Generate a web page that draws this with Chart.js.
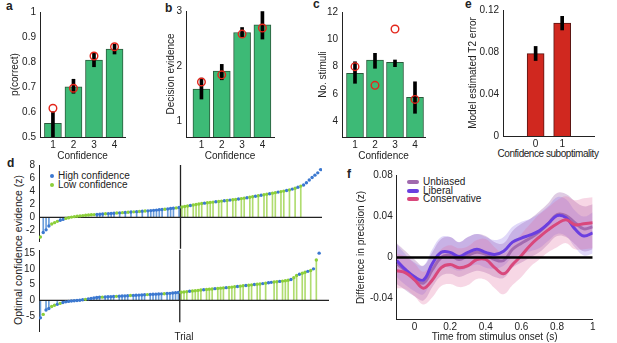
<!DOCTYPE html>
<html>
<head>
<meta charset="utf-8">
<script src="https://cdn.jsdelivr.net/npm/chart.js@4.4.1/dist/chart.umd.min.js"></script>
<style>
body { margin: 0; background: #fff; }
#fig { position: relative; width: 617px; height: 343px; overflow: hidden; font-family: 'Liberation Sans', Arial, sans-serif; color: #222; }
#fig canvas { position: absolute; }
.lbl { position: absolute; font-weight: bold; font-size: 12px; line-height: 12px; }
.txt { position: absolute; font-size: 10px; line-height: 10px; white-space: nowrap; }
.dot { position: absolute; width: 4px; height: 4px; border-radius: 50%; }
.swatch { position: absolute; width: 12px; height: 4px; border-radius: 2px; }
</style>
</head>
<body>
<div id="fig">
  <div class="lbl" style="left:6px;top:0px">a</div>
  <div class="lbl" style="left:165px;top:2px">b</div>
  <div class="lbl" style="left:313px;top:-2px">c</div>
  <div class="lbl" style="left:465px;top:-2px">e</div>
  <div class="lbl" style="left:7px;top:157px">d</div>
  <div class="lbl" style="left:347px;top:168px">f</div>

  <div class="txt" style="left:18px;top:250px;font-size:10.5px;transform:translate(-50%,-50%) rotate(-90deg)">Optimal confidence evidence (z)</div>
  <div class="txt" style="left:548px;top:154px;letter-spacing:-0.45px;transform:translate(-50%,-50%)">Confidence suboptimality</div>

  <div class="dot" style="left:50px;top:174px;background:#3b78d0"></div>
  <div class="txt" style="left:58px;top:171px">High confidence</div>
  <div class="dot" style="left:50px;top:183px;background:#8ccf3a"></div>
  <div class="txt" style="left:58px;top:180px">Low confidence</div>

  <div class="swatch" style="left:407px;top:180px;background:#a06aae"></div>
  <div class="txt" style="left:423px;top:177px">Unbiased</div>
  <div class="swatch" style="left:407px;top:189px;background:#6a3fe0"></div>
  <div class="txt" style="left:423px;top:186px">Liberal</div>
  <div class="swatch" style="left:407px;top:197px;background:#d9487c"></div>
  <div class="txt" style="left:423px;top:194px">Conservative</div>
</div>
<script>
// ---- panel a: accuracy per confidence level
const confLevels = [1, 2, 3, 4];
const pCorrect = [0.555, 0.701, 0.808, 0.852];
const pCorrectLo = [0.501, 0.675, 0.781, 0.832];
const pCorrectHi = [0.601, 0.731, 0.835, 0.871];
const pCorrectModel = [0.615, 0.695, 0.824, 0.861];
const pCorrectTicks = [0.5, 0.6, 0.7, 0.8, 0.9, 1];

// ---- panel b: decision evidence
const decEvidence = [1.58, 1.91, 2.61, 2.75];
const decEvidenceLo = [1.4, 1.75, 2.53, 2.49];
const decEvidenceHi = [1.78, 2.03, 2.7, 2.99];
const decEvidenceModel = [1.71, 1.84, 2.58, 2.69];
const decEvidenceTicks = [1, 2, 3];

// ---- panel c: number of stimuli
const numStimuli = [7.5, 8.48, 8.31, 5.74];
const numStimuliLo = [6.77, 7.87, 7.99, 4.57];
const numStimuliHi = [8.35, 8.97, 8.48, 6.88];
const numStimuliModel = [7.99, 6.62, 10.75, 5.59];
const numStimuliTicks = [4, 6, 8, 10, 12];

// ---- panel e: model T2 error
const suboptLevels = [0, 1];
const t2Error = [0.0785, 0.1075];
const t2ErrorLo = [0.0719, 0.101];
const t2ErrorHi = [0.0853, 0.114];
const t2Ticks = [0, 0.04, 0.08, 0.12];

// ---- panel d: sorted trials, top and bottom
const trialEvTop = [-3.0, -2.3, -1.9, -1.3, -1.0, -0.8, -0.6, -0.45, -0.3, -0.15,
  -0.05, 0.05, 0.12, 0.18, 0.23, 0.28, 0.32, 0.36, 0.4, 0.43,
  0.46, 0.49, 0.52, 0.55, 0.58, 0.61, 0.64, 0.67, 0.7, 0.73,
  0.76, 0.79, 0.82, 0.85, 0.88, 0.91, 0.94, 0.97, 1.0, 1.04,
  1.08, 1.12, 1.16, 1.2, 1.25, 1.3, 1.35, 1.4, 1.45, 1.52,
  1.58, 1.66, 1.74, 1.82, 1.9, 1.98, 2.05, 2.12, 2.18, 2.24,
  2.29, 2.34, 2.39, 2.44, 2.49, 2.54, 2.59, 2.64, 2.69, 2.74,
  2.8, 2.87, 2.94, 3.01, 3.08, 3.15, 3.22, 3.3, 3.38, 3.46,
  3.54, 3.62, 3.7, 3.78, 3.86, 3.94, 4.02, 4.1, 4.2, 4.32,
  4.45, 4.6, 4.78, 4.95, 5.3, 5.7, 6.1, 6.45, 6.8, 7.3];
const trialConfTop = ('LHHHLLLHHL' + 'LLLLLLLLLL' + 'HHHLHHHLHL' + 'HLHLHLHLHH' + 'HHHHLHHHLH' +
  'LLLHLLLLHL' + 'LLHLLHLHLL' + 'HLLHLLHLHL' + 'LHLLHLLHLH' + 'LHLHHHHHHH').split('');
const trialTicksTop = [-2, 0, 2, 4, 6, 8];

const trialEvBot = [-5.6, -4.5, -3.1, -2.6, -2.0, -1.6, -1.3, -1.0, -0.7, -0.5,
  -0.35, -0.25, -0.15, -0.08, 0.0, 0.15, 0.3, 0.45, 0.6, 0.75,
  0.9, 0.95, 1.0, 1.05, 1.1, 1.15, 1.2, 1.25, 1.3, 1.35,
  1.4, 1.45, 1.5, 1.55, 1.6, 1.65, 1.7, 1.75, 1.8, 1.85,
  1.9, 1.95, 2.0, 2.05, 2.1, 2.15, 2.2, 2.3, 2.4, 2.5,
  2.55, 2.65, 2.75, 2.85, 2.95, 3.05, 3.15, 3.25, 3.35, 3.45,
  3.5, 3.6, 3.7, 3.78, 3.86, 3.94, 4.02, 4.1, 4.2, 4.3,
  4.4, 4.5, 4.6, 4.7, 4.8, 4.9, 5.0, 5.1, 5.2, 5.3,
  5.45, 5.6, 5.7, 5.8, 5.9, 6.0, 6.1, 6.2, 6.35, 6.6,
  7.2, 7.9, 8.3, 8.6, 8.9, 9.2, 9.5, 10.0, 12.8, 15.0];
const trialConfBot = ('HLHHLLHLHH' + 'HHHHHHLHHH' + 'HHLHHHHLHH' + 'HHLHHHHHLH' + 'HHHHLHHHHH' +
  'LLLHLLLLHL' + 'LLHLLLHLLL' + 'HLLHLLHLLH' + 'LHHLLHLLLH' + 'LLHLLHLHLH').split('');
const trialTicksBot = [-5, 0, 5, 10, 15];
const splitTrial = 49.5;

// ---- panel f: precision difference over time
const fTime = [-0.1, -0.05, 0, 0.05, 0.1, 0.15, 0.2, 0.25, 0.3, 0.35, 0.4, 0.45,
  0.5, 0.55, 0.6, 0.65, 0.7, 0.75, 0.8, 0.85, 0.9, 0.95, 1.0];
const unbiasedMean = [-0.006, -0.013, -0.02, -0.025, -0.012, 0.0, 0.002, -0.002, 0.002, 0.005, 0.003, -0.002,
  -0.003, 0.008, 0.014, 0.019, 0.025, 0.033, 0.042, 0.041, 0.034, 0.028, 0.03];
const unbiasedSem = [0.02, 0.019, 0.018, 0.017, 0.017, 0.018, 0.018, 0.017, 0.018, 0.018, 0.018, 0.017,
  0.017, 0.018, 0.019, 0.019, 0.02, 0.02, 0.021, 0.021, 0.021, 0.022, 0.022];
const liberalMean = [-0.003, -0.012, -0.019, -0.022, -0.006, 0.005, 0.005, 0.001, 0.005, 0.008, 0.005, 0.003,
  0.006, 0.015, 0.019, 0.022, 0.026, 0.033, 0.041, 0.039, 0.028, 0.021, 0.024];
const liberalSem = [0.016, 0.015, 0.014, 0.014, 0.014, 0.015, 0.015, 0.014, 0.015, 0.015, 0.015, 0.014,
  0.014, 0.015, 0.016, 0.016, 0.017, 0.017, 0.018, 0.018, 0.018, 0.019, 0.02];
const conservMean = [-0.013, -0.015, -0.022, -0.03, -0.022, -0.01, -0.007, -0.01, -0.008, -0.002, -0.002, -0.01,
  -0.016, -0.007, 0.002, 0.012, 0.02, 0.027, 0.033, 0.037, 0.032, 0.033, 0.034];
const conservSem = [0.017, 0.016, 0.016, 0.016, 0.017, 0.018, 0.019, 0.019, 0.019, 0.019, 0.02, 0.02,
  0.02, 0.02, 0.021, 0.021, 0.022, 0.022, 0.023, 0.023, 0.024, 0.025, 0.025];
const fTicksX = [0, 0.2, 0.4, 0.6, 0.8, 1];
const fTicksY = [-0.04, 0, 0.04, 0.08];

const INK = '#222';
Chart.defaults.font.family = "'Liberation Sans', Arial, sans-serif";
Chart.defaults.font.size = 10;
Chart.defaults.color = INK;

const fig = document.getElementById('fig');

function makeCanvas(left, top, w, h) {
  const c = document.createElement('canvas');
  c.width = w; c.height = h;
  c.style.left = left + 'px'; c.style.top = top + 'px';
  c.style.width = w + 'px'; c.style.height = h + 'px';
  fig.appendChild(c);
  return c;
}

function axis(min, max, ticks, size, isY, title, titlePad, opts) {
  opts = opts || {};
  return {
    type: 'linear', min, max, offset: false,
    position: isY ? 'left' : 'bottom',
    grid: { display: false, drawTicks: false },
    border: { display: opts.border !== false, color: INK, width: 1 },
    afterBuildTicks: s => { s.ticks = ticks.map(v => ({ value: v })); },
    afterFit: s => { if (isY) s.width = size; else s.height = size; },
    ticks: { display: opts.labels !== false, color: INK, padding: isY ? 4 : 2, autoSkip: false, maxRotation: 0, callback: v => String(v) },
    title: title ? { display: true, text: title, color: INK, padding: isY ? { top: titlePad, bottom: 0 } : { top: 0, bottom: titlePad } } : { display: false }
  };
}

function baseOptions(padTop, padRight, scales) {
  return {
    responsive: false, animation: false, devicePixelRatio: 1, events: [],
    layout: { autoPadding: false, padding: { left: 0, top: padTop, right: padRight, bottom: 0 } },
    plugins: { legend: { display: false }, tooltip: { enabled: false } },
    scales
  };
}

function barPanel(p) {
  const c = makeCanvas(p.left, 0, p.width, 163);
  const datasets = [];
  if (p.model) {
    datasets.push({
      type: 'scatter', data: p.cats.map((x, i) => ({ x, y: p.model[i] })),
      pointRadius: 3.8, pointBorderWidth: 1.4, pointBorderColor: '#e3261b',
      pointBackgroundColor: 'rgba(0,0,0,0)', order: 0
    });
  }
  datasets.push({
    type: 'bar', data: p.cats.map((x, i) => ({ x, y: [p.lo[i], p.hi[i]] })),
    backgroundColor: '#000', barThickness: 3, grouped: false, order: 1
  });
  datasets.push({
    type: 'bar', data: p.cats.map((x, i) => ({ x, y: p.vals[i] })),
    backgroundColor: p.fill, borderColor: p.edge, borderWidth: 1,
    barThickness: 17, grouped: false, order: 2
  });
  new Chart(c, {
    type: 'bar',
    data: { datasets },
    options: baseOptions(p.padTop, p.padRight, {
      x: axis(p.xmin, p.xmax, p.cats, p.xh, false, p.xTitle, p.xTitlePad),
      y: axis(p.ymin, p.ymax, p.yTicks, p.yw, true, p.yTitle, p.yTitlePad)
    })
  });
}

const GREEN = '#3dba76', GREEN_EDGE = '#2b5a3c';

barPanel({ left: 0, width: 130, padTop: 12, padRight: 5, xh: 26, yw: 40,
  cats: confLevels, vals: pCorrect, lo: pCorrectLo, hi: pCorrectHi, model: pCorrectModel,
  fill: GREEN, edge: GREEN_EDGE, xmin: 0.37, xmax: 4.51, ymin: 0.5, ymax: 1, yTicks: pCorrectTicks,
  xTitle: 'Confidence', xTitlePad: 1, yTitle: 'p(correct)', yTitlePad: 9 });

barPanel({ left: 146, width: 133, padTop: 11, padRight: 5, xh: 26, yw: 40,
  cats: confLevels, vals: decEvidence, lo: decEvidenceLo, hi: decEvidenceHi, model: decEvidenceModel,
  fill: GREEN, edge: GREEN_EDGE, xmin: 0.24, xmax: 4.57, ymin: 0.71, ymax: 3, yTicks: decEvidenceTicks,
  xTitle: 'Confidence', xTitlePad: 1, yTitle: 'Decision evidence', yTitlePad: 19 });

barPanel({ left: 302, width: 128, padTop: 12, padRight: 5, xh: 26, yw: 40,
  cats: confLevels, vals: numStimuli, lo: numStimuliLo, hi: numStimuliHi, model: numStimuliModel,
  fill: GREEN, edge: GREEN_EDGE, xmin: 0.35, xmax: 4.5, ymin: 2.83, ymax: 12, yTicks: numStimuliTicks,
  xTitle: 'Confidence', xTitlePad: 1, yTitle: 'No. stimuli', yTitlePad: 15 });

barPanel({ left: 458, width: 144, padTop: 8, padRight: 8, xh: 27, yw: 45,
  cats: suboptLevels, vals: t2Error, lo: t2ErrorLo, hi: t2ErrorHi, model: null,
  fill: '#d0281f', edge: '#5a1512', xmin: -1.23, xmax: 2.2, ymin: 0, ymax: 0.12, yTicks: t2Ticks,
  xTitle: null, xTitlePad: 0, yTitle: 'Model estimated T2 error', yTitlePad: 9 });

// ---- panel d
const BLUE = '#3b78d0', LIME = '#8ccf3a', BLUE_STEM = '#6b9edb', LIME_STEM = '#b0dc70';

function trialPanel(p) {
  const c = makeCanvas(0, p.top, p.width, p.height);
  const pts = p.vals.map((y, i) => ({ x: i, y }));
  const stemColors = p.conf.map((k, i) => {
    if (k === 'H' && i < splitTrial) return BLUE_STEM;
    if (k === 'L' && i > splitTrial) return LIME_STEM;
    return 'rgba(0,0,0,0)';
  });
  new Chart(c, {
    type: 'bar',
    data: {
      datasets: [
        { type: 'scatter', data: pts, pointRadius: 1.7, pointBorderWidth: 0,
          pointBackgroundColor: p.conf.map(k => k === 'H' ? BLUE : LIME), order: 0 },
        { type: 'line', data: [{ x: splitTrial, y: p.lineTop }, { x: splitTrial, y: p.lineBottom }],
          borderColor: INK, borderWidth: 1.3, pointRadius: 0, clip: false, order: 1 },
        { type: 'line', data: [{ x: -0.5, y: 0 }, { x: p.xmax, y: 0 }],
          borderColor: INK, borderWidth: 1.3, pointRadius: 0, order: 2 },
        { type: 'bar', data: pts, backgroundColor: stemColors, barThickness: 1, grouped: false, order: 3 }
      ]
    },
    options: baseOptions(p.padTop, p.padRight, {
      x: axis(-0.5, p.xmax, [], p.xh, false, p.xTitle, 0, { border: false, labels: false }),
      y: axis(p.ymin, p.ymax, p.yTicks, 39, true, null, 0)
    })
  });
}

trialPanel({ top: 155, width: 330, height: 96, padTop: 9.5, padRight: 8, xh: 10,
  vals: trialEvTop, conf: trialConfTop, ymin: -3.6, ymax: 8, yTicks: trialTicksTop,
  xmax: 99.5, lineTop: 8, lineBottom: -4.8, xTitle: null });

trialPanel({ top: 240, width: 340, height: 103, padTop: 8.5, padRight: 11, xh: 11.3,
  vals: trialEvBot, conf: trialConfBot, ymin: -10, ymax: 16, yTicks: trialTicksBot,
  xmax: 102.5, lineTop: 16, lineBottom: -7, xTitle: 'Trial' });

// ---- panel f
function series(mean, color, order) {
  return { data: fTime.map((x, i) => ({ x, y: mean[i] })), borderColor: color, borderWidth: 3,
    pointRadius: 0, tension: 0.4, fill: false, order };
}
function band(mean, sem, color, order) {
  return [
    { data: fTime.map((x, i) => ({ x, y: mean[i] + sem[i] })), borderWidth: 0, pointRadius: 0,
      tension: 0.4, backgroundColor: color, fill: '+1', order },
    { data: fTime.map((x, i) => ({ x, y: mean[i] - sem[i] })), borderWidth: 0, pointRadius: 0,
      tension: 0.4, fill: false, order }
  ];
}

const fCanvas = makeCanvas(350, 160, 248, 183);
new Chart(fCanvas, {
  type: 'line',
  data: {
    datasets: [
      { data: [{ x: -0.1, y: 0 }, { x: 1, y: 0 }], borderColor: '#000', borderWidth: 2.5, pointRadius: 0, order: 0 },
      series(conservMean, '#d9487c', 1),
      series(liberalMean, '#6a3fe0', 2),
      series(unbiasedMean, 'rgba(150,90,165,0.75)', 3),
      ...band(conservMean, conservSem, 'rgba(225,110,160,0.28)', 4),
      ...band(liberalMean, liberalSem, 'rgba(130,100,230,0.25)', 5),
      ...band(unbiasedMean, unbiasedSem, 'rgba(150,85,165,0.3)', 6)
    ]
  },
  options: baseOptions(15.7, 5.3, {
    x: axis(-0.1, 1, fTicksX, 23.7, false, 'Time from stimulus onset (s)', 0),
    y: axis(-0.0605, 0.08, fTicksY, 46.7, true, 'Difference in precision (z)', 5.7)
  })
});
</script>
</body>
</html>
